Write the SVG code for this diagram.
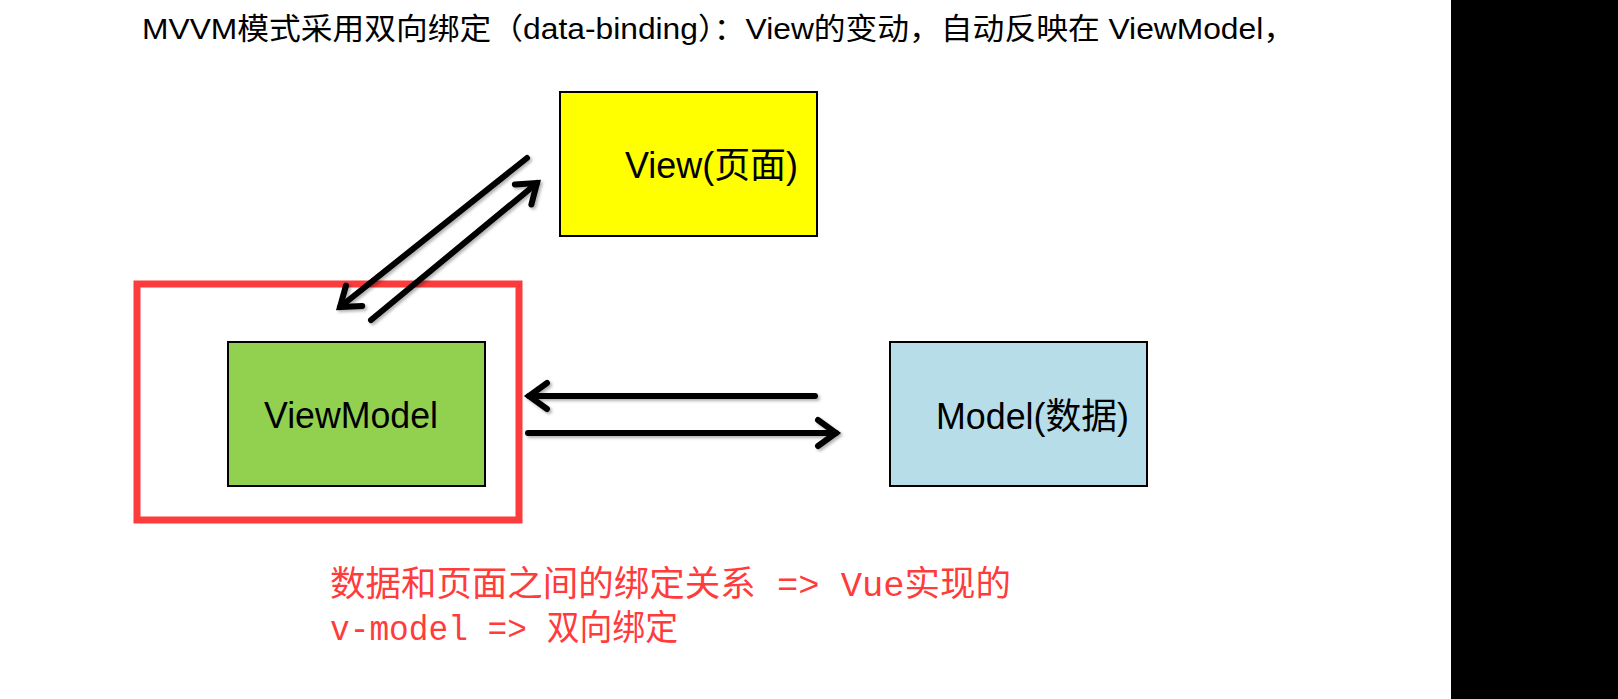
<svg xmlns="http://www.w3.org/2000/svg" width="1618" height="699" viewBox="0 0 1618 699">
<style>
.box{stroke:#000;stroke-width:2}
.lbl{font-family:"Liberation Sans","Noto Sans CJK SC",sans-serif;font-size:36px;fill:#000}
.title{font-family:"Liberation Sans","Noto Sans CJK SC",sans-serif;font-size:30px;fill:#000}
.note{font-family:"Liberation Mono","Noto Sans CJK SC",monospace;font-size:35px;fill:#ff3b3b}
.arr{stroke:#000;stroke-width:6;fill:none;stroke-linecap:round;marker-end:url(#head)}
</style>
<defs>
<marker id="head" markerUnits="userSpaceOnUse" markerWidth="40" markerHeight="40" refX="0" refY="0" orient="auto" overflow="visible">
<path d="M -18,-13 L 0,0 L -18,13" fill="none" stroke="#000" stroke-width="6" stroke-linecap="round" stroke-linejoin="miter"/>
</marker>
<filter id="sh" x="-10%" y="-10%" width="130%" height="130%">
<feDropShadow dx="2" dy="2" stdDeviation="1.5" flood-color="#000" flood-opacity="0.3"/>
</filter>
</defs>
<rect width="1618" height="699" fill="#fff"/>
<rect x="1451" y="0" width="167" height="699" fill="#000"/>
<text class="title" x="142" y="39" textLength="1153" lengthAdjust="spacingAndGlyphs">MVVM模式采用双向绑定（data-binding）：View的变动，自动反映在 ViewModel，</text>
<g id="view">
<rect class="box" x="560" y="92" width="257" height="144" fill="#ffff00"/>
<text class="lbl" x="625" y="178" textLength="173" lengthAdjust="spacingAndGlyphs">View(页面)</text>
</g>
<g id="viewmodel-highlight">
<rect x="137" y="284" width="382" height="236" fill="none" stroke="#fc3b3b" stroke-width="7"/>
</g>
<g id="viewmodel">
<rect class="box" x="228" y="342" width="257" height="144" fill="#92d050"/>
<text class="lbl" x="264" y="428" textLength="174" lengthAdjust="spacingAndGlyphs">ViewModel</text>
</g>
<g id="model">
<rect class="box" x="890" y="342" width="257" height="144" fill="#b7dee8"/>
<text class="lbl" x="936" y="429" textLength="193" lengthAdjust="spacingAndGlyphs">Model(数据)</text>
</g>
<g id="connectors" filter="url(#sh)">
<line class="arr" x1="527" y1="158" x2="340" y2="307"/>
<line class="arr" x1="371" y1="320" x2="537" y2="183"/>
<line class="arr" x1="815" y1="396" x2="529" y2="396"/>
<line class="arr" x1="528" y1="433" x2="836" y2="433"/>
</g>
<g id="note">
<text class="note" x="330" y="596" textLength="681" lengthAdjust="spacingAndGlyphs">数据和页面之间的绑定关系 =&gt; Vue实现的</text>
<text class="note" x="330" y="640" textLength="348" lengthAdjust="spacingAndGlyphs">v-model =&gt; 双向绑定</text>
</g>
</svg>
